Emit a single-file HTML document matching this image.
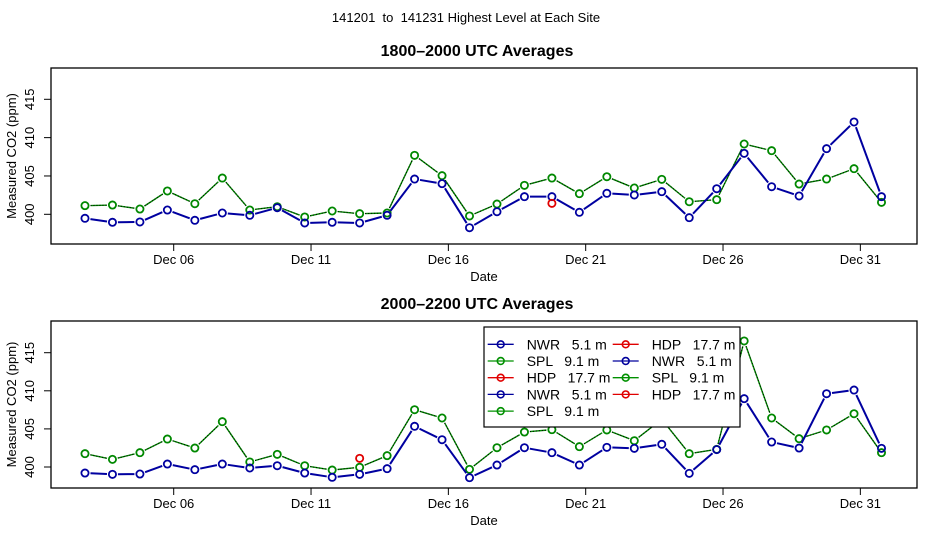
<!DOCTYPE html>
<html><head><meta charset="utf-8"><style>
html,body{margin:0;padding:0;background:#fff;}
svg{display:block;font-family:"Liberation Sans",Arial,sans-serif;}
text{white-space:pre;}
</style></head><body>
<svg id="chart" width="936" height="540" viewBox="0 0 936 540" xmlns="http://www.w3.org/2000/svg">
<text x="466" y="22" font-size="13" text-anchor="middle" style="white-space:pre">141201  to  141231 Highest Level at Each Site</text>
</svg>
<script>
// Data arrays
const dayOffsets = [2.77,3.77,4.77,5.77,6.77,7.77,8.77,9.77,10.77,11.77,12.77,13.77,14.77,15.77,16.77,17.77,18.77,19.77,20.77,21.77,22.77,23.77,24.77,25.77,26.77,27.77,28.77,29.77,30.77,31.77];
const xTickDays = [6,11,16,21,26,31];
const xTickLabels = ["Dec 06","Dec 11","Dec 16","Dec 21","Dec 26","Dec 31"];
const yTicks = [400,405,410,415];
const nwrTop = [399.48,398.96,399.0,400.56,399.22,400.17,399.87,400.86,398.87,398.96,398.87,399.87,404.6,404.0,398.25,400.34,402.3,402.3,400.26,402.74,402.52,402.95,399.56,403.34,407.95,403.6,402.39,408.56,412.04,402.3];
const splTop = [401.13,401.21,400.69,403.04,401.38,404.73,400.56,400.99,399.65,400.43,400.08,400.17,407.69,405.04,399.78,401.34,403.78,404.73,402.69,404.9,403.43,404.56,401.64,401.91,409.17,408.3,403.95,404.6,405.95,401.56];
const hdpTop = [null,null,null,null,null,null,null,null,null,null,null,null,null,null,null,null,null,401.43,null,null,null,null,null,null,null,null,null,null,null,null];
const nwrBot = [399.21,399.04,399.08,400.39,399.65,400.39,399.87,400.17,399.21,398.65,399.04,399.78,405.34,403.58,398.6,400.26,402.53,401.88,400.26,402.58,402.45,402.98,399.17,402.28,408.97,403.28,402.49,409.62,410.1,402.45];
const splBot = [401.75,401.0,401.88,403.67,402.49,405.95,400.66,401.66,400.17,399.6,399.96,401.49,407.52,406.43,399.69,402.53,404.59,404.9,402.67,404.86,403.45,406.26,401.75,402.32,416.54,406.43,403.72,404.86,406.99,401.88];
const hdpBot = [null,null,null,null,null,null,null,null,null,null,401.14,null,null,null,null,null,null,null,null,null,null,null,null,null,null,null,null,null,null,null];
const legendLabels = ["NWR   5.1 m","SPL   9.1 m","HDP   17.7 m","NWR   5.1 m","SPL   9.1 m","HDP   17.7 m","NWR   5.1 m","SPL   9.1 m","HDP   17.7 m"];
const legendColors = ["#00009c","#009000","#e00000","#00009c","#009000","#e00000","#00009c","#009000","#e00000"];

const NS="http://www.w3.org/2000/svg";
const svg=document.getElementById('chart');
function mk(tag,attrs,parent){const e=document.createElementNS(NS,tag);for(const k in attrs)e.setAttribute(k,attrs[k]);(parent||svg).appendChild(e);return e;}
const xScale=d=>173.7+(d-6)*27.466;

function panel(name,title,top,bottom,y400,y415,series){
  const yScale=v=>y400-(v-400)*(y400-y415)/15;
  const g=mk('g',{});
  
  
  const t=mk('text',{x:477,y:top-12,'font-size':16,'font-weight':'bold','text-anchor':'middle'},g);t.textContent=title;
  
  
  const box=mk('rect',{x:51,y:top,width:866,height:bottom-top,fill:'none',stroke:'#000','stroke-width':1.3},g);
  
  
  yTicks.forEach(v=>{const y=yScale(v);
    mk('line',{x1:44,x2:51,y1:y,y2:y,stroke:'#000'},g);
    const tx=mk('text',{x:34,y:y,'font-size':13,'text-anchor':'middle',transform:`rotate(-90 34 ${y})`},g);tx.textContent=v;
    
    });
  const ya=mk('text',{x:16,y:(top+bottom)/2,'font-size':13,'text-anchor':'middle',transform:`rotate(-90 16 ${(top+bottom)/2})`},g);ya.textContent='Measured CO2 (ppm)';
  
  
  xTickDays.forEach((d,i)=>{const x=xScale(d);
    mk('line',{x1:x,x2:x,y1:bottom,y2:bottom+7,stroke:'#000'},g);
    const tx=mk('text',{x:x,y:bottom+20,'font-size':13,'text-anchor':'middle'},g);tx.textContent=xTickLabels[i];
    
    });
  const xa=mk('text',{x:484,y:bottom+37,'font-size':13,'text-anchor':'middle'},g);xa.textContent='Date';
  
  
  series.forEach(s=>{
    const sg=mk('g',{},g);
    
    
    const pts=s.vals.map((v,i)=>v==null?null:[xScale(dayOffsets[i]),yScale(v)]);
    for(let i=0;i<pts.length-1;i++){const a=pts[i],b=pts[i+1];if(!a||!b)continue;
      const dx=b[0]-a[0],dy=b[1]-a[1],L=Math.hypot(dx,dy);if(L<11)continue;
      const ux=dx/L,uy=dy/L;
      const seg={x1:a[0]+ux*5.5,y1:a[1]+uy*5.5,x2:b[0]-ux*5.5,y2:b[1]-uy*5.5};
      mk('line',Object.assign({stroke:s.color,'stroke-width':s.w},seg),sg);
      if(s.dash) mk('line',Object.assign({stroke:'#000','stroke-width':1,'stroke-dasharray':s.dash},seg),sg);}
    pts.forEach(p=>{if(!p)return;const c=mk('circle',{cx:p[0],cy:p[1],r:3.6,fill:'none',stroke:s.color,'stroke-width':1.8},sg);
      
      });
  });
  return g;
}
panel('panel-1800-2000','1800\u20132000 UTC Averages',68,244,214.3,99.3,[
  {name:'spl-top-series',vals:splTop,color:'#008800',w:1.4,dash:'1,2'},
  {name:'nwr-top-series',vals:nwrTop,color:'#0000a0',w:2},
  {name:'hdp-top-series',vals:hdpTop,color:'#e00000',w:1.4}]);
panel('panel-2000-2200','2000\u20132200 UTC Averages',321,488,467,352.7,[
  {name:'spl-bottom-series',vals:splBot,color:'#008800',w:1.4,dash:'1,2'},
  {name:'nwr-bottom-series',vals:nwrBot,color:'#0000a0',w:2},
  {name:'hdp-bottom-series',vals:hdpBot,color:'#e00000',w:1.4}]);

// legend
const lg=mk('g',{});


mk('rect',{x:484,y:327,width:256,height:100,fill:'#fff',stroke:'#000','stroke-width':1.2},lg);
legendLabels.forEach((lab,i)=>{
  const col=i<5?0:1,row=i<5?i:i-5;
  const sx=col?625.7:500.7,tx=col?651.7:526.7,y=344.3+row*16.7;
  const e=mk('g',{},lg);
  
  
  mk('line',{x1:sx-13,x2:sx+13,y1:y,y2:y,stroke:legendColors[i],'stroke-width':1.3},e);
  mk('circle',{cx:sx,cy:y,r:3.4,fill:'none',stroke:legendColors[i],'stroke-width':1.6},e);
  const t=mk('text',{x:tx,y:y+5,'font-size':14,style:'white-space:pre'},e);t.textContent=lab;
});
</script>
</body></html>
